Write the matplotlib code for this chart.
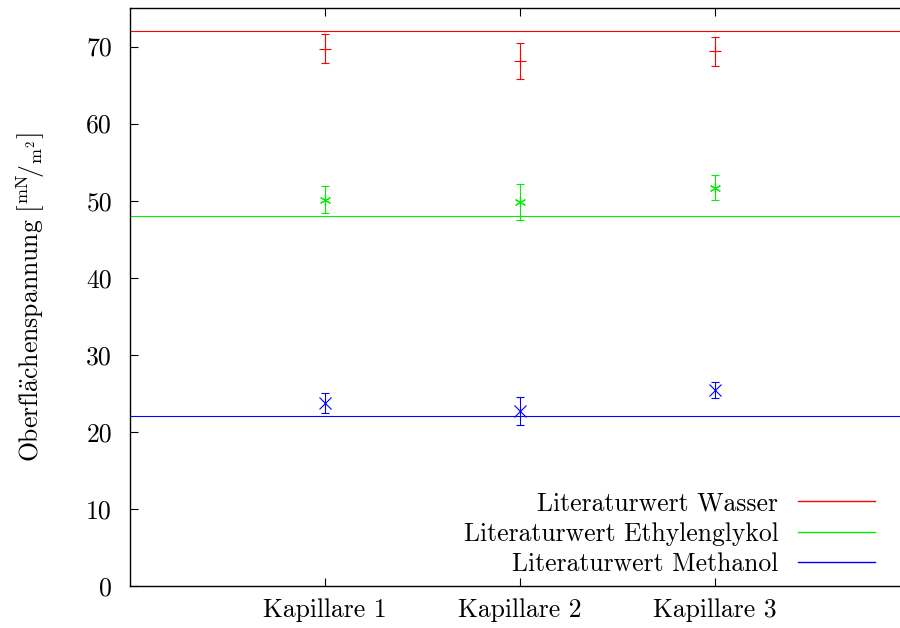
import matplotlib
matplotlib.use('Agg')
import matplotlib.pyplot as plt
from matplotlib.lines import Line2D

# Messwerte (Oberflächenspannung in mN/m)
kapillaren = ['Kapillare 1', 'Kapillare 2', 'Kapillare 3']
wasser = [69.7, 68.1, 69.4]
wasser_err = [1.9, 2.3, 1.9]
ethylenglykol = [50.1, 49.8, 51.7]
ethylenglykol_err = [1.75, 2.3, 1.6]
methanol = [23.8, 22.7, 25.4]
methanol_err = [1.3, 1.8, 1.05]

# Literaturwerte
lit_labels = ['Literaturwert Wasser', 'Literaturwert Ethylenglykol', 'Literaturwert Methanol']
lit_werte = [72.0, 48.0, 22.0]
farben = ['#ff0000', '#00ee00', '#0000ff']

plt.rcParams['font.family'] = ['cmr10', 'DejaVu Serif']
plt.rcParams['mathtext.fontset'] = 'cm'
plt.rcParams['axes.unicode_minus'] = False

fig = plt.figure(figsize=(9, 6.28), dpi=100)
ax = fig.add_axes([130/900, 42/628, 1 - 130/900, (586 - 8)/628])

x = [1, 2, 3]
asterisk = (6, 2, 0)
for werte, fehler, farbe, marker in zip([wasser, ethylenglykol, methanol],
                                        [wasser_err, ethylenglykol_err, methanol_err],
                                        farben, ['+', asterisk, 'x']):
    ax.errorbar(x, werte, yerr=fehler, fmt='none', ecolor=farbe, elinewidth=0.8,
                capsize=3, capthick=0.8)
    ax.plot(x, werte, linestyle='none', marker=marker, color=farbe, markersize=8,
            markeredgewidth=0.8)

handles = []
for wert, farbe, label in zip(lit_werte, farben, lit_labels):
    ax.axhline(wert, color=farbe, linewidth=0.8)
    handles.append(Line2D([], [], color=farbe, linewidth=1.0, label=label))

ax.set_xlim(0, 3.95)
ax.set_ylim(0, 75)
ax.set_xticks(x)
ax.set_xticklabels(kapillaren)
ax.set_yticks(range(0, 71, 10))
ax.tick_params(direction='in', top=True, right=False, labelsize=18.5, length=6, width=0.8)
ax.tick_params(axis='y', pad=13)
ax.tick_params(axis='x', pad=9)
ax.spines['right'].set_visible(False)
for s in ['left', 'bottom', 'top']:
    ax.spines[s].set_linewidth(1.0)

ax.set_ylabel(r'$\mathrm{Oberfl\ddot{a}chenspannung}\ \left[{}^{\mathrm{mN}}\!/{}_{\mathrm{m}^2}\right]$',
              fontsize=18.5, labelpad=28)

leg = ax.legend(handles=handles, loc='lower right', bbox_to_anchor=(0.9805, 0.0), frameon=False,
                markerfirst=False, fontsize=18.5, handlelength=3.0, handletextpad=0.75,
                labelspacing=0.25, borderaxespad=0)
for t in leg.get_texts():
    t.set_ha('right')

fig.savefig('out.png', dpi=100)
